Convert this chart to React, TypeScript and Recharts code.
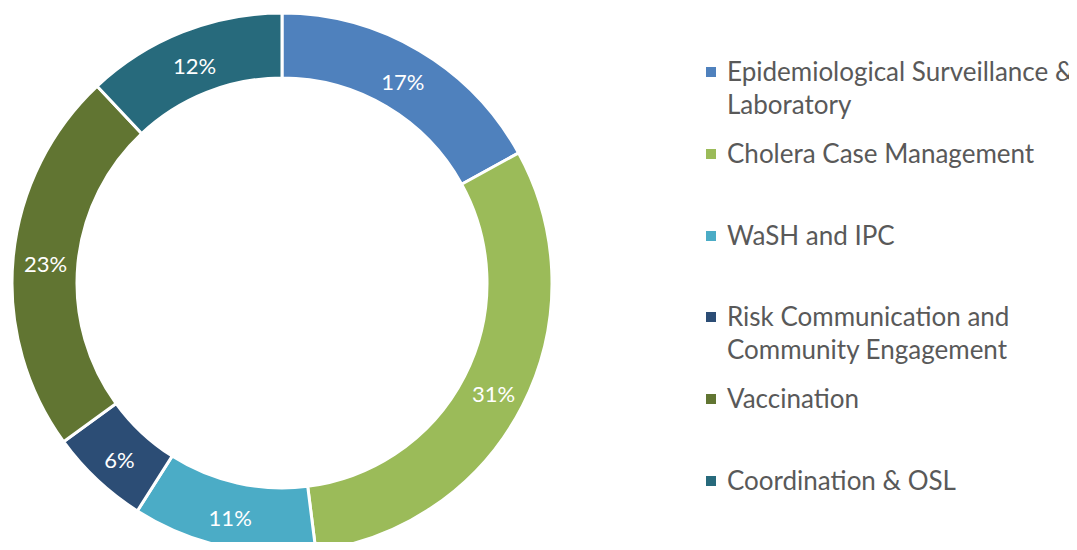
import { Cell, Legend, Pie, PieChart } from "recharts";

const categories = [
  "Epidemiological Surveillance & Laboratory",
  "Cholera Case Management",
  "WaSH and IPC",
  "Risk Communication and Community Engagement",
  "Vaccination",
  "Coordination & OSL",
];
const shares = [17, 31, 11, 6, 23, 12];
const colors = ["#4f81bd", "#9bbb59", "#4bacc6", "#2c4d75", "#617532", "#276a7c"];

const data = categories.map((name, i) => ({ name, value: shares[i] }));

const RAD = Math.PI / 180;

const renderLabel = (props: any) => {
  const { cx, cy, midAngle, innerRadius, outerRadius, value } = props;
  const r = (innerRadius + outerRadius) / 2;
  const x = cx + r * Math.cos(-midAngle * RAD);
  const y = cy + r * Math.sin(-midAngle * RAD);
  return (
    <text
      x={x}
      y={y + 3}
      fill="#fff"
      fontSize={22}
      textAnchor="middle"
      dominantBaseline="central"
    >
      {value}%
    </text>
  );
};

const renderLegend = (props: any) => {
  // keep the data order, not the alphabetical one
  const payload = [...(props.payload || [])].sort(
    (a: any, b: any) => categories.indexOf(a.value) - categories.indexOf(b.value)
  );
  return (
    <div style={{ display: "flex", flexDirection: "column" }}>
      {payload.map((entry: any) => (
        <div key={entry.value} style={{ display: "flex", height: 81.8 }}>
          <span
            style={{
              width: 10,
              height: 10,
              background: entry.color,
              marginTop: 12,
              marginRight: 11,
              flexShrink: 0,
            }}
          />
          <span
            style={{
              width: 355,
              fontSize: 26,
              lineHeight: "33px",
              color: "#595959",
            }}
          >
            {entry.value}
          </span>
        </div>
      ))}
    </div>
  );
};

export default function App() {
  return (
    <div style={{ margin: -8, fontFamily: "Lato, sans-serif", background: "#fff" }}>
      <PieChart width={1077} height={550} margin={{ top: 0, right: 0, bottom: 0, left: 0 }}>
        <Pie
          data={data}
          dataKey="value"
          nameKey="name"
          cx={282}
          cy={283}
          innerRadius={205}
          outerRadius={270}
          startAngle={90}
          endAngle={-270}
          stroke="#fff"
          strokeWidth={3}
          label={renderLabel}
          labelLine={false}
          isAnimationActive={false}
        >
          {data.map((d, i) => (
            <Cell key={d.name} fill={colors[i]} />
          ))}
        </Pie>
        <Legend
          layout="vertical"
          align="right"
          verticalAlign="top"
          itemSorter={null as any}
          content={renderLegend}
          wrapperStyle={{ left: 706, top: 55, width: 371, right: "auto" }}
        />
      </PieChart>
    </div>
  );
}
